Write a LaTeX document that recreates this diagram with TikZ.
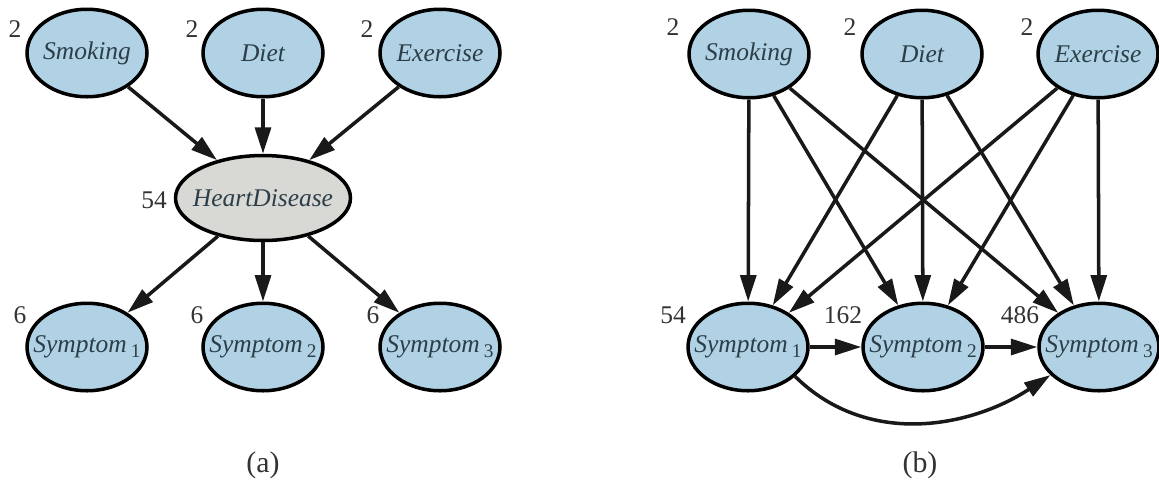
\documentclass[tikz,border=0pt]{standalone}
\usepackage{fontspec}
\setmainfont{Liberation Serif}
\usetikzlibrary{arrows.meta, positioning, shapes.geometric}
\definecolor{nodeblue}{HTML}{B0D2E4}
\definecolor{nodegray}{HTML}{D8D8D4}
\definecolor{nodetext}{HTML}{2C3E48}
\newcommand{\symptom}[1]{Symptom\,\raisebox{-0.45ex}{\upshape\fontsize{11}{12}\selectfont #1}}

\begin{document}
\begin{tikzpicture}[x=0.02cm,y=-0.02cm,
    var/.style={ellipse,draw=black,line width=2pt,fill=nodeblue,
      minimum width=2.4cm,minimum height=1.75cm,inner xsep=-8pt,inner ysep=0pt,
      font=\fontsize{14.5}{16}\selectfont\itshape,text=nodetext},
    card/.style={font=\fontsize{14.5}{16}\selectfont,text=black!80},
    arr/.style={-{Triangle[length=15pt,width=9pt]},line width=2pt,black!90}]
      \useasboundingbox (0,0) rectangle (1159,485);

      % (a) one hidden cause
      \node[var] (sa) at (87,53) {Smoking};
      \node[var] (da) at (263,53) {Diet};
      \node[var] (ea) at (440,53) {Exercise};
      \node[var,fill=nodegray,minimum width=3.5cm,minimum height=1.7cm] (hd) at (263,198) {HeartDisease};
      \node[var] (s1a) at (87,347) {\symptom{1}};
      \node[var] (s2a) at (263,347) {\symptom{2}};
      \node[var] (s3a) at (440,347) {\symptom{3}};

      \node[card] at (15,29) {2};
      \node[card] at (192,29) {2};
      \node[card] at (367,29) {2};
      \node[card] at (154,200) {54};
      \node[card] at (20,315) {6};
      \node[card] at (197,315) {6};
      \node[card] at (373,315) {6};

      \draw[arr] (sa) -- (hd);
      \draw[arr] (da) -- (hd);
      \draw[arr] (ea) -- (hd);
      \draw[arr] (hd) -- (s1a);
      \draw[arr] (hd) -- (s2a);
      \draw[arr] (hd) -- (s3a);

      \node[card,font=\fontsize{17}{19}\selectfont] (capa) at (263,465) {(a)};

      % (b) without the hidden node
      \node[var] (sb) at (749,54) {Smoking};
      \node[var] (db) at (922,54) {Diet};
      \node[var] (eb) at (1098,54) {Exercise};
      \node[var] (s1b) at (748,347) {\symptom{1}};
      \node[var] (s2b) at (923,347) {\symptom{2}};
      \node[var] (s3b) at (1099,347) {\symptom{3}};

      \node[card] at (673,27) {2};
      \node[card] at (850,27) {2};
      \node[card] at (1027,27) {2};
      \node[card] at (673,315) {54};
      \node[card] at (843,315) {162};
      \node[card] at (1020,315) {486};

      \foreach \src in {sb,db,eb}
        \foreach \dst in {s1b,s2b,s3b}
          \draw[arr] (\src) -- (\dst);
      \draw[arr] (s1b) -- (s2b);
      \draw[arr] (s2b) -- (s3b);
      \draw[arr] (s1b.-32) .. controls (870,450) and (975,425) .. (s3b.-150);

      \node[card,font=\fontsize{17}{19}\selectfont] (capb) at (920,465) {(b)};
    \end{tikzpicture}
\end{document}
